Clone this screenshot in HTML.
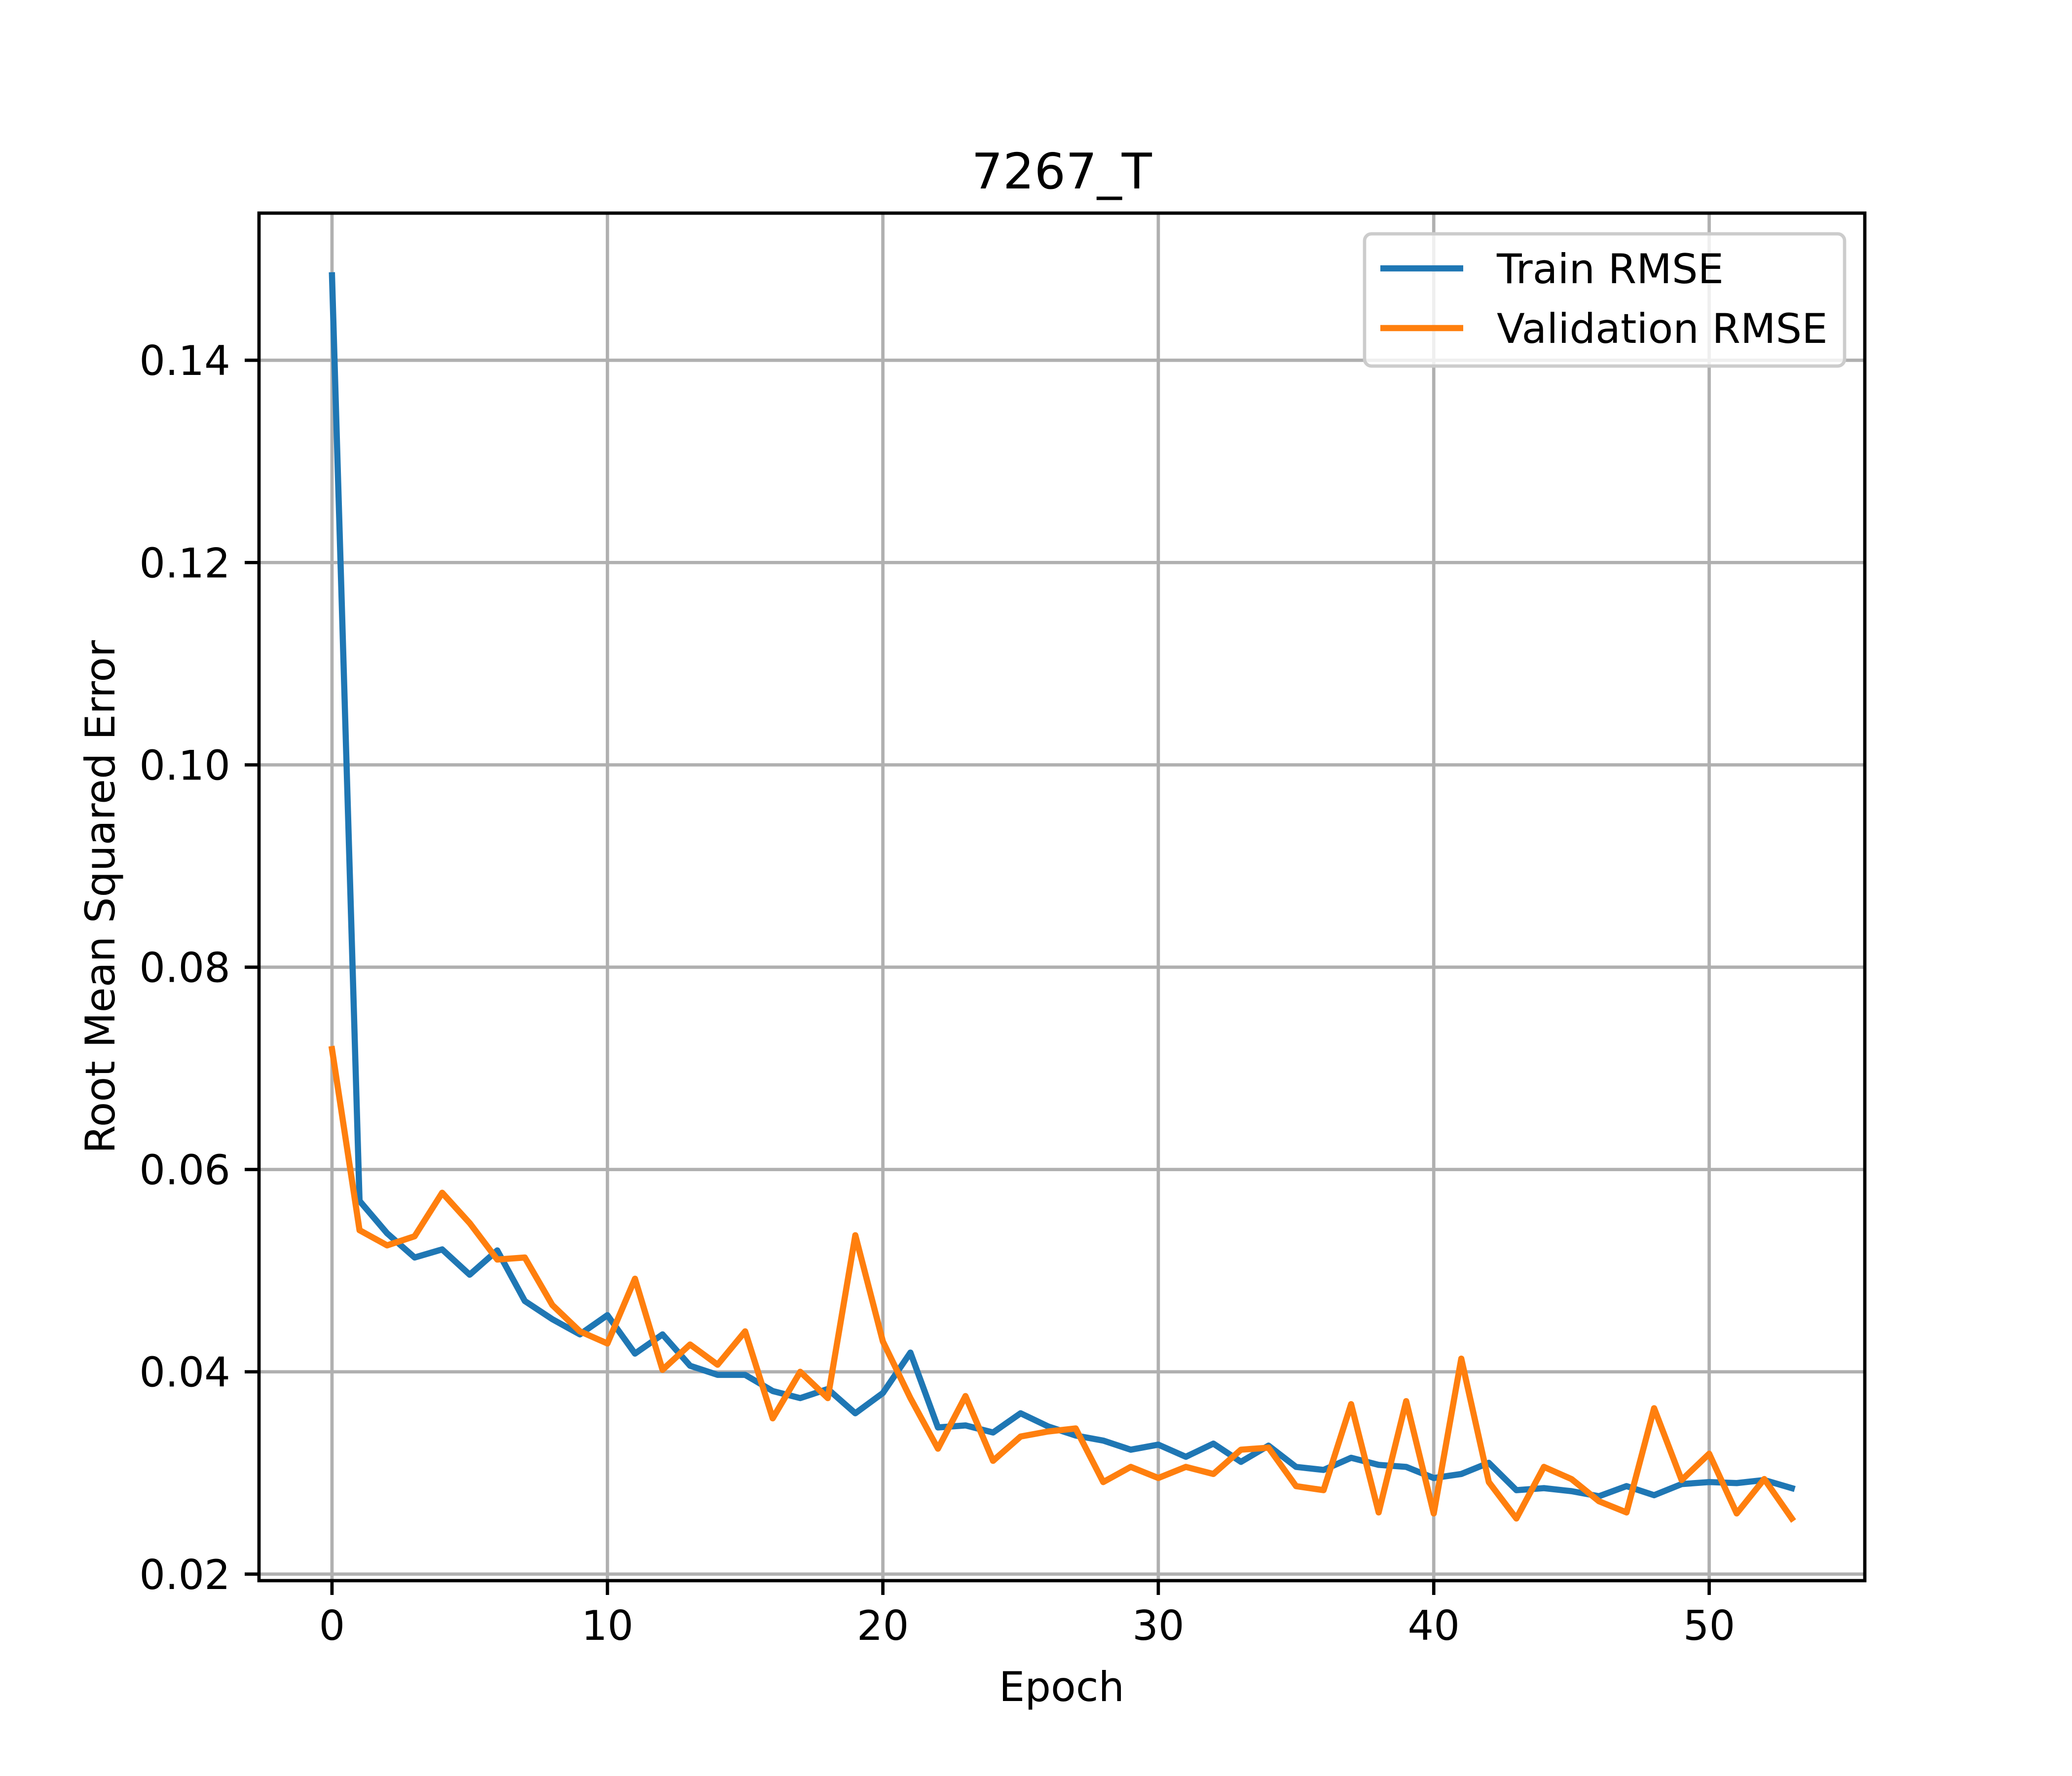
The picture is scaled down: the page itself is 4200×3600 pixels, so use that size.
<!DOCTYPE html>
<html><head><meta charset="utf-8"><style>html,body{margin:0;padding:0;background:#fff}svg{display:block}text{font-family:"DejaVu Sans","Liberation Sans",sans-serif;fill:#000}</style></head>
<body>
<svg id="chart" width="4200" height="3600" viewBox="0 0 4200 3600" xmlns="http://www.w3.org/2000/svg">
<rect width="4200" height="3600" fill="#fff"/>
<g id="grid"></g>
<g id="series"></g>
<rect x="525" y="432" width="3255" height="2772" fill="none" stroke="#000" stroke-width="6.7"/>
<g id="ticks"></g>
<text x="2152" y="382" font-size="100" text-anchor="middle">7267_T</text>
<text x="2152" y="3448" font-size="83" text-anchor="middle">Epoch</text>
<text transform="translate(232,1818) rotate(-90)" font-size="83" text-anchor="middle">Root Mean Squared Error</text>
<g>
<rect x="2766" y="474" width="973" height="268" rx="14" fill="#fff" fill-opacity="0.8" stroke="#ccc" stroke-width="6.7"/>
<line x1="2798" y1="544" x2="2966" y2="544" stroke="#1f77b4" stroke-width="12.5"/>
<text x="3034" y="574" font-size="83">Train RMSE</text>
<line x1="2798" y1="665" x2="2966" y2="665" stroke="#ff7f0e" stroke-width="12.5"/>
<text x="3034" y="695" font-size="83">Validation RMSE</text>
</g>
</svg>
<script>
const trainRmse=[0.1484,0.0569,0.0537,0.0513,0.0521,0.0496,0.052,0.047,0.0452,0.0437,0.0456,0.0418,0.0437,0.0406,0.0397,0.0397,0.0381,0.0374,0.0383,0.0359,0.0379,0.0419,0.0345,0.0347,0.034,0.0359,0.0346,0.0337,0.0332,0.0323,0.0328,0.0316,0.0329,0.0311,0.0327,0.0306,0.0303,0.0315,0.0308,0.0306,0.0295,0.0299,0.031,0.0283,0.0285,0.0282,0.0277,0.0287,0.0278,0.0289,0.0291,0.029,0.0293,0.0285];
const valRmse=[0.0719,0.054,0.0525,0.0534,0.0577,0.0547,0.0511,0.0513,0.0466,0.044,0.0428,0.0492,0.0402,0.0427,0.0407,0.044,0.0354,0.04,0.0374,0.0535,0.043,0.0374,0.0324,0.0376,0.0312,0.0336,0.0341,0.0344,0.0291,0.0306,0.0295,0.0306,0.0299,0.0323,0.0325,0.0287,0.0283,0.0368,0.0261,0.0371,0.026,0.0413,0.0291,0.0255,0.0306,0.0294,0.0272,0.0261,0.0364,0.0293,0.0319,0.026,0.0294,0.0255];
const xTicks=[0,10,20,30,40,50];
const yTicks=[0.02,0.04,0.06,0.08,0.10,0.12,0.14];
const yTickLabels=["0.02","0.04","0.06","0.08","0.10","0.12","0.14"];
const NS="http://www.w3.org/2000/svg";
const L=525,R=3780,T=432,B=3204;
const n=trainRmse.length;
const xmin=-(n-1)*0.05,xmax=(n-1)*1.05;
const all=trainRmse.concat(valRmse);
const dmin=Math.min(...all),dmax=Math.max(...all),pad=(dmax-dmin)*0.05;
const ymin=dmin-pad,ymax=dmax+pad;
const sx=v=>L+(v-xmin)/(xmax-xmin)*(R-L);
const sy=v=>B-(v-ymin)/(ymax-ymin)*(B-T);
const grid=document.getElementById('grid'),ticks=document.getElementById('ticks'),series=document.getElementById('series');
function mk(tag,attrs,parent){const e=document.createElementNS(NS,tag);for(const k in attrs)e.setAttribute(k,attrs[k]);parent.appendChild(e);return e;}
xTicks.forEach(t=>{const x=sx(t);
const g=mk('line',{x1:x,x2:x,y1:T,y2:B,stroke:'#b0b0b0','stroke-width':6.7},grid);


const tk=mk('line',{x1:x,x2:x,y1:B,y2:B+29,stroke:'#000','stroke-width':6.7},ticks);


const tx=mk('text',{x:x,y:B+120,'font-size':83,'text-anchor':'middle'},ticks);tx.textContent=t;

});
yTicks.forEach((t,i)=>{const y=sy(t);
const g=mk('line',{x1:L,x2:R,y1:y,y2:y,stroke:'#b0b0b0','stroke-width':6.7},grid);


const tk=mk('line',{x1:L-29,x2:L,y1:y,y2:y,stroke:'#000','stroke-width':6.7},ticks);


const tx=mk('text',{x:L-58,y:y+30,'font-size':83,'text-anchor':'end'},ticks);tx.textContent=yTickLabels[i];

});
function line(data,color,name){const p=mk('polyline',{points:data.map((v,i)=>sx(i)+','+sy(v)).join(' '),fill:'none',stroke:color,'stroke-width':12.5,'stroke-linejoin':'round','stroke-linecap':'square'},series);

}
line(trainRmse,'#1f77b4','train-rmse-line');
line(valRmse,'#ff7f0e','validation-rmse-line');
</script>
</body></html>
